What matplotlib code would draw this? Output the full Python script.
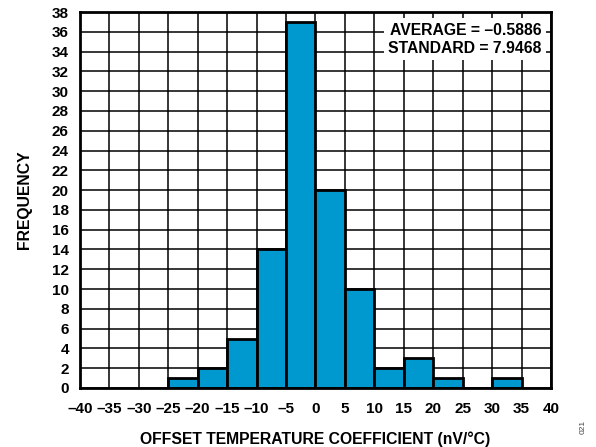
import numpy as np
import matplotlib.pyplot as plt

plt.rcParams['font.family'] = ['Liberation Sans', 'DejaVu Sans']
plt.rcParams['font.weight'] = 'bold'

# Histogram data: bin left edges and counts
bin_left = [-25, -20, -15, -10, -5, 0, 5, 10, 15, 20, 25, 30]
counts = [1, 2, 5, 14, 37, 20, 10, 2, 3, 1, 0, 1]
bin_width = 5
xticks = list(range(-40, 45, 5))
yticks = list(range(0, 40, 2))

fig = plt.figure(figsize=(5.96, 4.47), dpi=100)
ax = fig.add_axes([0.134, 0.132, 0.7905, 0.841])

ax.bar(bin_left, counts, width=bin_width, align='edge',
       color='#0099CF', edgecolor='black', linewidth=2, zorder=3)

ax.set_xlim(-40, 40)
ax.set_ylim(0, 38)
ax.set_xticks(xticks)
ax.set_yticks(yticks)
ax.set_xticklabels([str(t).replace('-', '\u2013') for t in xticks])
ax.grid(True, color='black', linewidth=1.1, zorder=0)
ax.set_axisbelow(True)
ax.tick_params(length=0, labelsize=11)
ax.tick_params(axis='x', pad=10)
ax.tick_params(axis='y', pad=8)
for s in ax.spines.values():
    s.set_linewidth(2)
    s.set_zorder(4)

ax.set_xlabel('OFFSET TEMPERATURE COEFFICIENT (nV/°C)', fontsize=11.3,
              fontweight='bold', labelpad=11)
ax.set_ylabel('FREQUENCY', fontsize=11.3, fontweight='bold', labelpad=14)

ax.text(0.98, 0.972, 'AVERAGE = \u20130.5886\nSTANDARD = 7.9468',
        transform=ax.transAxes, ha='right', va='top', fontsize=11.3,
        fontweight='bold', linespacing=1.25, zorder=5,
        bbox=dict(facecolor='white', edgecolor='none', pad=3))

fig.text(0.978, 0.03, '021', rotation=90, fontsize=6, color='#444444',
         fontweight='normal', ha='center', va='bottom')

fig.savefig('out.png', dpi=100)
